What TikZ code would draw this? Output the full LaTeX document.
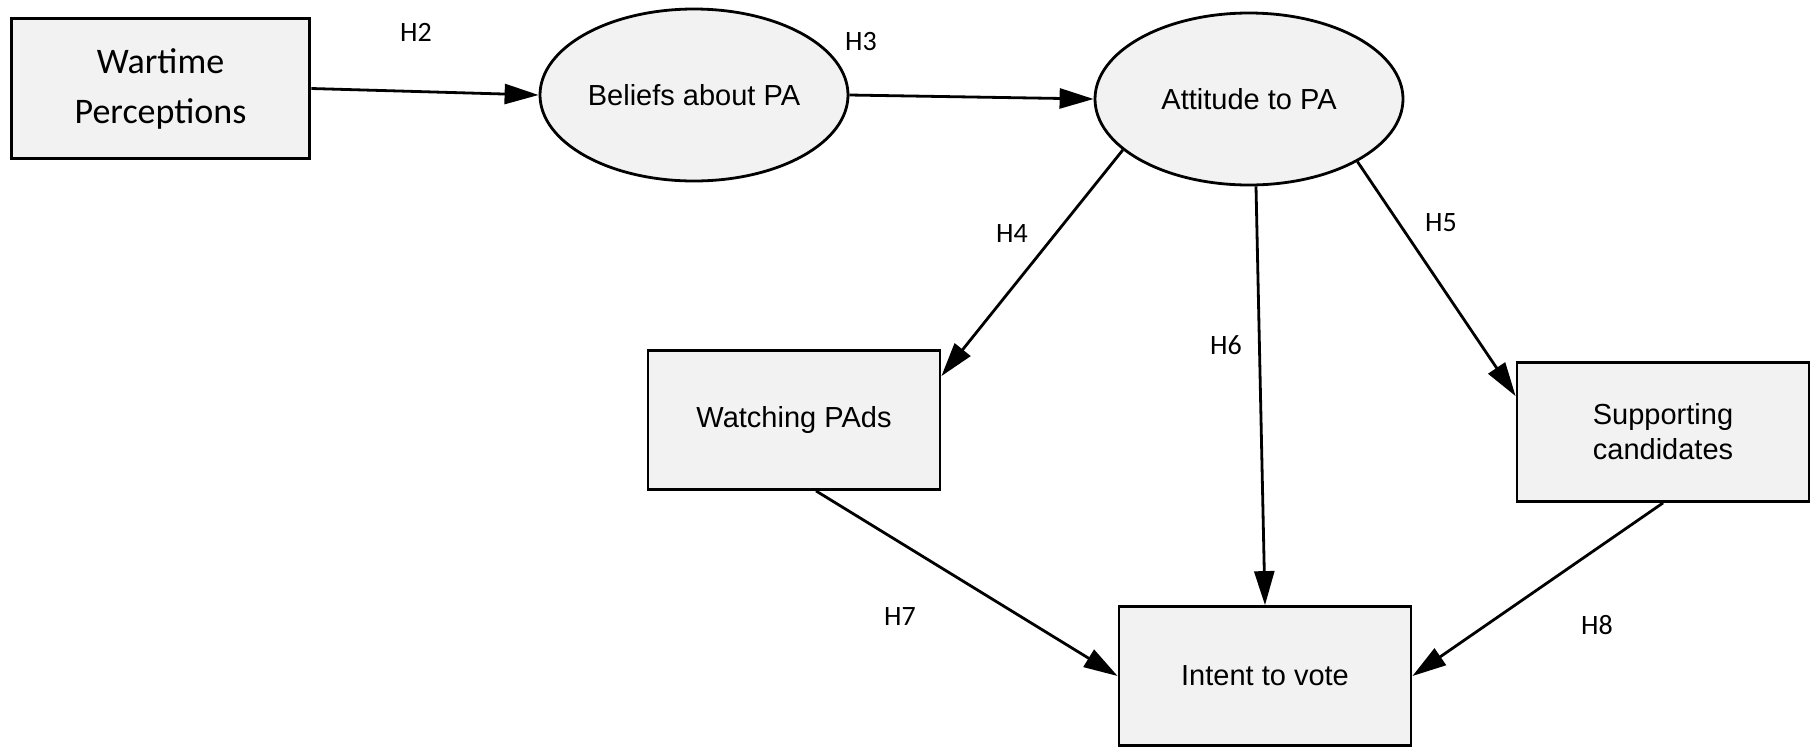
\documentclass[tikz,border=0pt]{standalone}
\usepackage{fontspec}
\setmainfont{Carlito}
\newfontfamily\arialf{Liberation Sans}
\usetikzlibrary{arrows.meta,shapes.geometric}
\definecolor{boxgray}{RGB}{242,242,242}
\begin{document}
\begin{tikzpicture}[x=1pt,y=-1pt,
  conn/.style={line width=2.8pt,-{Triangle[length=34pt,width=20pt]}},
  varbox/.style={draw, line width=2.8pt, fill=boxgray, minimum width=292pt, minimum height=139pt,
    inner sep=0pt, font=\arialf\fontsize{29}{35}\selectfont, align=center},
  varell/.style={ellipse, draw, line width=2.8pt, fill=boxgray, minimum width=308pt, minimum height=172pt,
    inner sep=0pt, font=\arialf\fontsize{29}{35}\selectfont},
  hlabel/.style={font=\fontsize{28}{32}\selectfont, inner sep=0pt}]
\useasboundingbox (0,0) rectangle (1815,748);
\node[draw, line width=3.8pt, fill=boxgray, minimum width=298pt, minimum height=140pt, inner sep=0pt,
  font=\fontsize{36}{50}\selectfont, align=center] (w) at (160.5,88.5) {Wartime\\Perceptions};
\node[varell] (b) at (694,95) {Beliefs about PA};
\node[varell] (a) at (1249,99) {Attitude to PA};
\node[varbox] (wp) at (794,420) {Watching PAds};
\node[varbox] (s) at (1663,432) {Supporting\\candidates};
\node[varbox] (i) at (1265,676) {Intent to vote};

\draw[conn] (w.east) -- (b.west);
\draw[conn] (b.east) -- (a.west);
\draw[conn] (a.202) -- ([yshift=-27pt]wp.north east);
\draw[conn] ([xshift=7pt]a.south) -- (i.north);
\draw[conn] (a.330) -- ([yshift=-35pt]s.north west);
\draw[conn] ([xshift=22pt]wp.south) -- (i.west);
\draw[conn] (s.south) -- (i.east);

\node[hlabel] (h2) at (416,32) {H2};
\node[hlabel] (h3) at (861,42) {H3};
\node[hlabel] (h4) at (1012,234) {H4};
\node[hlabel] (h5) at (1441,223) {H5};
\node[hlabel] (h6) at (1226,345) {H6};
\node[hlabel] (h7) at (900,617) {H7};
\node[hlabel] (h8) at (1597,625) {H8};
\end{tikzpicture}
\end{document}
